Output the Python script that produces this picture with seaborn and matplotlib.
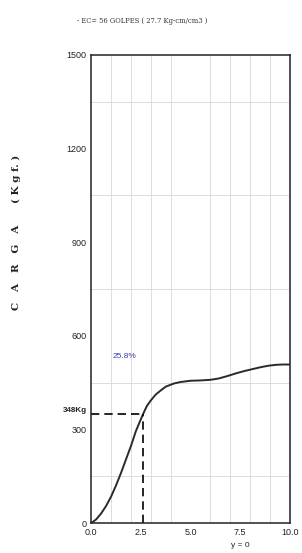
import matplotlib
matplotlib.use("Agg")
import matplotlib.pyplot as plt
import matplotlib.transforms as mtransforms
import numpy as np
import pandas as pd
import seaborn as sns

# Curva carga - deformacion
deformacion = [0.0, 0.25, 0.5, 0.75, 1.0, 1.25, 1.5, 1.75, 2.0, 2.25, 2.6, 2.8, 3.0, 3.25,
               3.5, 3.75, 4.15, 4.5, 5.0, 5.5, 6.0, 6.4, 6.8, 7.25, 7.7, 8.1, 8.5, 8.9,
               9.3, 9.65, 10.0]
carga = [0, 12, 31, 55, 85, 121, 161, 204, 247, 295, 348, 375, 393, 412,
         425, 437, 447, 452, 456, 457, 459, 463, 470, 479, 487, 493, 499, 504,
         507, 508, 508]

punto_x = 2.6
punto_y = 348
x_ticks = [0.0, 2.5, 5.0, 7.5, 10.0]
x_tick_labels = ["0.0", "2.5", "5.0", "7.5", "10.0"]
y_ticks = [0, 300, 600, 900, 1200, 1500]

df = pd.DataFrame({"def": deformacion, "carga": carga})

sns.set_style("white")
plt.rcParams["font.family"] = ["Liberation Sans", "DejaVu Sans"]

fig = plt.figure(figsize=(3.02, 5.53), dpi=100)
ax = fig.add_axes([0.302, 0.054, 0.658, 0.847])

sns.lineplot(data=df, x="def", y="carga", ax=ax, color="#2a2a2a", linewidth=1.4)

# lineas punteadas al punto 348 Kg
ax.plot([0, punto_x], [punto_y, punto_y], color="black", linestyle=(0, (5, 3)), linewidth=1.2)
ax.plot([punto_x, punto_x], [0, punto_y], color="black", linestyle=(0, (5, 3)), linewidth=1.2)

ax.set_xlim(0, 10)
ax.set_ylim(0, 1500)
ax.set_xticks(x_ticks)
ax.set_xticklabels(x_tick_labels)
ax.set_yticks(y_ticks)
ax.set_xticks(np.arange(0, 10.01, 1.0), minor=True)
ax.set_yticks(np.arange(0, 1501, 150), minor=True)
ax.grid(which="minor", color="#d8d8d8", linewidth=0.6)
ax.tick_params(which="both", direction="inout", length=3, width=0.8, labelsize=6.5, pad=2, colors="#222222")
ax.tick_params(which="minor", length=2)

for s in ax.spines.values():
    s.set_color("#222222")
    s.set_linewidth(1.1)

ax.set_xlabel("")
ax.set_ylabel("C   A   R   G   A      ( K g f. )", fontsize=7.5, fontweight="bold", family="DejaVu Serif",
              color="#222222")
ax.yaxis.set_label_coords(-0.355, 0.62)

trans = mtransforms.blended_transform_factory(ax.transAxes, ax.transData)
ax.text(-0.02, punto_y, "348Kg", transform=trans, ha="right", va="bottom", fontsize=5.8,
        fontweight="bold", color="#222222")
ax.text(1.65, 535, "25.8%", color="#3a3aa8", fontsize=6, ha="center", va="center")
ax.text(7.5, -72, "y = 0", ha="center", va="center", fontsize=6, color="#222222")

fig.text(0.47, 0.962, "- EC= 56 GOLPES ( 27.7 Kg-cm/cm3 )", ha="center", va="center",
         fontsize=4.9, family="DejaVu Serif", color="#333333")

fig.savefig("out.png", dpi=100, facecolor="white")
